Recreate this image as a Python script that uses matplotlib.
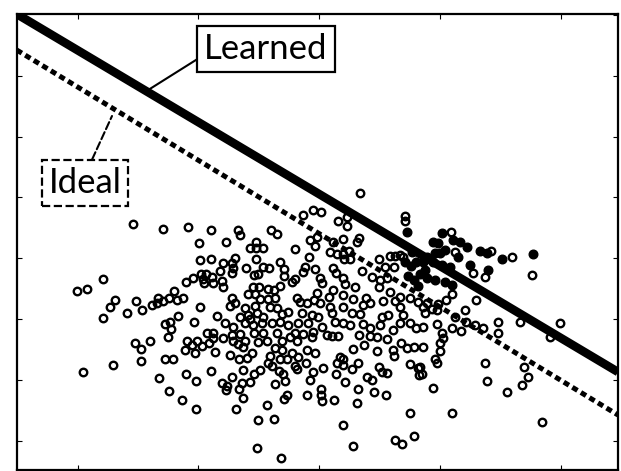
import numpy as np
import matplotlib.pyplot as plt

# All values, in picture units (x right, y down)
x_ticks = [77.7, 198.5, 319.3, 440.1, 561.0]
y_ticks = [14.7, 75.7, 136.7, 197.3, 258.3, 319.0, 380.0, 440.7]

learned_x = [16.7, 618.0]
learned_y = [14.0, 372.0]
ideal_x = [16.7, 618.0]
ideal_y = [50.0, 415.0]

open_pts = [
    # left part
    (133.3, 224), (162.7, 229.3), (102.7, 279), (76.7, 290.7), (86.7, 289), (115, 300), (110, 307.3),
    (136, 301.3), (174, 290.7), (158.3, 297.7), (163.3, 300.7), (169.3, 297.7), (176.7, 300),
    (152.3, 305.3), (157.3, 302.7), (141.7, 310), (127.3, 313.3), (103.3, 317.7), (177.7, 316),
    (165, 324), (170, 322), (170.7, 328.7), (83.3, 371.7), (112.7, 365.3), (135, 343.3),
    (140.7, 349.3), (150, 340.7), (140.7, 360.7), (168.3, 337.3), (165, 359.3), (172.7, 359.3),
    (159.3, 378.3), (169.3, 390.7),
    # centre left, upper
    (188.3, 227.3), (210.7, 230), (238.3, 230), (240, 235), (270.7, 230), (277.3, 234), (199.3, 242.7),
    (226, 241.7), (256, 241.7), (250, 248.3), (256, 248.3), (262.7, 248.3), (295, 249.3), (200, 260),
    (210.7, 259), (222.7, 262.7), (235, 258.3), (231.7, 262.7), (256, 259), (220, 270.7),
    (233.3, 268.3), (231.7, 273.3), (246, 268.3), (262.7, 267.3), (269.3, 268.3), (254, 275),
    (258.3, 274.3), (280, 261.7), (284, 269.3), (284, 276), (295, 279.3), (291.7, 281.7), (186, 281.7),
    (193.3, 278.3), (200.7, 274), (206, 274), (203.3, 279.3), (211.7, 277.3), (204, 283.3),
    (213.3, 283.3), (221.7, 280.7), (223.3, 287.3), (252.7, 287.3), (259.3, 287.3), (248.3, 294),
    (255, 294), (268.3, 289.3), (274, 290), (280, 286), (260, 299.3), (268.3, 299.3), (275, 298.3),
    (231.7, 298.3), (235, 302.7), (230, 306), (245, 308.3), (255, 306), (248.3, 315), (256.7, 312.7),
    (263.3, 316.7), (270, 306.7), (276.7, 308.3), (281.7, 314), (288.3, 311.7), (296.7, 298.3),
    (183.3, 298.3), (200, 306.7), (217.3, 316), (240, 317.3), (250, 319.3),
    # centre left, lower
    (194, 321.7), (225, 322.7), (232.7, 327.3), (245, 323.3), (252.7, 325), (261.7, 322.7),
    (271.7, 323.3), (280, 321.7), (288.3, 325), (298.3, 323.3), (187.3, 340.7), (197.3, 340.7),
    (206.7, 333.3), (213.3, 333.3), (212.7, 338.3), (209.3, 342.7), (201.7, 346), (191.7, 345),
    (185, 350), (195, 353.3), (215, 352.3), (223.3, 338.3), (231.7, 335), (233.3, 340.7), (240, 334),
    (238.3, 344), (245, 340.7), (243.3, 347.3), (251.7, 353.3), (246.7, 358.3), (239.3, 359.3),
    (230, 355), (254, 333.3), (258.3, 341.7), (263.3, 333.3), (267.3, 340.7), (276.7, 333.3),
    (281.7, 340.7), (275, 348.3), (281.7, 350), (290, 336.7), (295, 332.7), (297.3, 340.7),
    (291.7, 353.3), (298.3, 356.7), (270, 356), (268.3, 363.3), (271.7, 366), (260, 370), (280, 359.3),
    (286.7, 359.3), (279.3, 370.7), (282.7, 374), (285, 380.7), (295, 366), (296.7, 369.3), (186, 374),
    (196, 380.7), (210.7, 370.7), (221.7, 383.3), (226.7, 386), (226, 390), (231.7, 376.7),
    (243.3, 370), (241.7, 383.3), (239.3, 389.3), (250, 381.7), (254, 374), (243.3, 398.3),
    (274.7, 384), (284, 399.3), (287.3, 395), (181.7, 400), (196, 409.3), (236, 409.3), (267.3, 405),
    (258.3, 420), (274.3, 419.3), (257.3, 448.3), (281, 458.3),
    # centre right, upper
    (360, 192.7), (313.3, 210), (320.7, 211.7), (302.7, 215), (338.3, 220.7), (346.7, 217.3),
    (347.3, 226), (405, 216), (405, 220.7), (310, 240), (317.3, 236.7), (315, 246), (333.3, 241.7),
    (342.7, 239.3), (359.3, 238.3), (357.3, 241.7), (330, 251.7), (337.3, 254), (342.7, 254),
    (349.3, 250.7), (350, 259.3), (344, 259.3), (309.3, 256.7), (379.3, 259.3), (390, 256), (395, 256),
    (400, 255), (403.3, 257.3), (305, 266.7), (315, 269.3), (303.3, 271.7), (333.3, 268.3),
    (336, 272.7), (361.7, 270.7), (385, 266.7), (394, 266.7), (320, 278.3), (321.7, 283.3),
    (343.3, 278.3), (345, 284), (371.7, 276.7), (380, 280), (379.3, 286.7), (387.3, 278.3),
    (390, 291.7), (355, 287.3), (333.3, 290), (316.7, 293.3), (329.3, 296.7), (343.3, 295),
    (353.3, 299.3), (366, 298.3), (370, 303.3), (363.3, 305), (383.3, 300.7), (395, 300.7),
    (400, 296.7), (410, 298.3), (418.3, 301.7), (300, 301.7), (306.7, 302.7), (314, 300), (320, 303.3),
    (330, 306.7), (343.3, 306.7), (400, 307.3),
    # centre right, lower
    (301.7, 313.3), (311.7, 315), (308.3, 323.3), (318.3, 316.7), (321.7, 326.7), (331.7, 313.3),
    (335, 321.7), (343.3, 323.3), (350, 325), (351.7, 313.3), (360, 314), (363.3, 324), (370, 328.3),
    (380, 325), (381.7, 316.7), (388.3, 315), (392.7, 330), (400, 323.3), (403.3, 315), (410, 322.7),
    (416, 328.3), (303.3, 334), (313.3, 331.7), (311.7, 336.7), (326.7, 335), (331.7, 336),
    (338.3, 336), (359.3, 335), (370, 336), (377.3, 336.7), (387.3, 339.3), (400.7, 342.7),
    (407.3, 348.3), (414, 347.3), (364, 345), (352.7, 349.3), (377.3, 350.7), (393.3, 350), (394, 356),
    (306.7, 350), (315, 352.7), (306, 363.3), (323.3, 368.3), (313.3, 371.7), (310, 380), (336, 374),
    (337.3, 363.3), (340, 356.7), (342.7, 359.3), (343.3, 365), (351.7, 369.3), (358.3, 362.7),
    (345, 381.7), (366.7, 376.7), (371.7, 380), (379.3, 367.3), (381.7, 371.7), (387.3, 373.3),
    (410, 364), (418.3, 368.3), (419.3, 375), (306.7, 395), (320.7, 389.3), (320.7, 395),
    (321.7, 400.7), (334, 400), (358.3, 389.3), (357.3, 402.7), (374, 391.7), (386, 395),
    (342.7, 425), (352.7, 446), (410, 412.7), (395, 440), (401.7, 444), (414, 436),
    # right part
    (450.7, 231.7), (455, 251.7), (490.7, 250.7), (511.7, 257.3), (473.3, 272.7), (485, 277.3),
    (531.7, 275), (476, 300), (451.7, 294), (446, 300), (438.3, 304), (426.7, 302.7), (423.3, 307.3),
    (425, 313.3), (431.7, 309.3), (436.7, 310), (465, 310), (455, 316.7),
    (422.7, 326.7), (436.7, 324), (451.7, 328.3), (460.7, 330.7), (466, 321.7), (475, 325),
    (483.3, 328.3), (498.3, 321.7), (498.3, 332.7), (520, 321.7), (560, 322.7), (441.7, 332.7),
    (443.3, 338.3), (440, 343.3), (423.3, 347.3), (440, 350.7), (435, 359.3), (436.7, 363.3),
    (420, 366.7), (421.7, 374), (432.7, 387.7), (485, 363.3), (486.7, 380.7), (524, 367.3),
    (528.3, 377.3), (521.7, 385), (507.3, 392.3), (451.7, 413.3), (542.3, 421.7), (550, 337.3),
]

filled_pts = [
    (406.7, 231.7), (441.7, 233.3), (432.7, 241.7), (438.3, 243.3), (453.3, 240), (460, 241.7),
    (466.7, 246.7), (480, 250.7), (486.7, 253.3), (501.7, 259.3), (532.7, 254), (458.3, 256.7),
    (470, 265), (488.3, 270), (435, 253.3), (440, 252.7), (445, 250), (426.7, 256.7), (423.3, 261.7),
    (433.3, 261.7), (441.7, 265), (450, 266.7), (425, 270), (435, 280), (445, 281.7), (451.7, 285),
    (426.7, 278.3), (405, 262), (411, 266), (416, 262), (408, 276), (414, 280), (420, 274), (418, 286),
    (412, 252),
]

open_x, open_y = np.array(open_pts).T
filled_x, filled_y = np.array(filled_pts).T

plt.rcParams['font.family'] = ['Lato', 'DejaVu Sans']

W, H = 621, 471
fig = plt.figure(figsize=(W / 100, H / 100), dpi=100)
ax = fig.add_axes([16.7 / W, 1 / H, (618 - 16.7) / W, (470 - 14) / H])

ax.plot(open_x, open_y, 'o', ms=5.4, mfc='none', mec='black', mew=1.7, zorder=2)
ax.plot(filled_x, filled_y, 'o', ms=6.2, mfc='black', mec='black', mew=1, zorder=3)

ax.plot(ideal_x, ideal_y, color='black', lw=3.6, ls=(0, (1.2, 0.8)), zorder=4)
ax.plot(learned_x, learned_y, color='black', lw=6.2, solid_capstyle='butt', zorder=5)

# labels with leader lines
ax.annotate('Learned', xy=(145, 92), xytext=(266, 49), fontsize=25, ha='center', va='center',
            bbox=dict(boxstyle='square,pad=0.2', fc='white', ec='black', lw=1.6),
            arrowprops=dict(arrowstyle='-', lw=1.5, color='black', shrinkA=0, shrinkB=0,
                            relpos=(0, 0.32)), zorder=6)
ax.annotate('Ideal', xy=(112, 116), xytext=(85, 183), fontsize=25, ha='center', va='center',
            bbox=dict(boxstyle='square,pad=0.2', fc='white', ec='black', lw=1.6, ls='--'),
            arrowprops=dict(arrowstyle='-', lw=1.5, color='black', ls='--', shrinkA=0, shrinkB=0,
                            relpos=(0.55, 1)), zorder=6)

ax.set_xlim(16.7, 618)
ax.set_ylim(470, 14)
ax.set_xticks(x_ticks)
ax.set_yticks(y_ticks)
ax.set_xticklabels([])
ax.set_yticklabels([])
ax.tick_params(direction='in', length=3.5, width=0.8, top=True, right=True)
for s in ax.spines.values():
    s.set_linewidth(1.6)

fig.savefig('out.png', dpi=100)
